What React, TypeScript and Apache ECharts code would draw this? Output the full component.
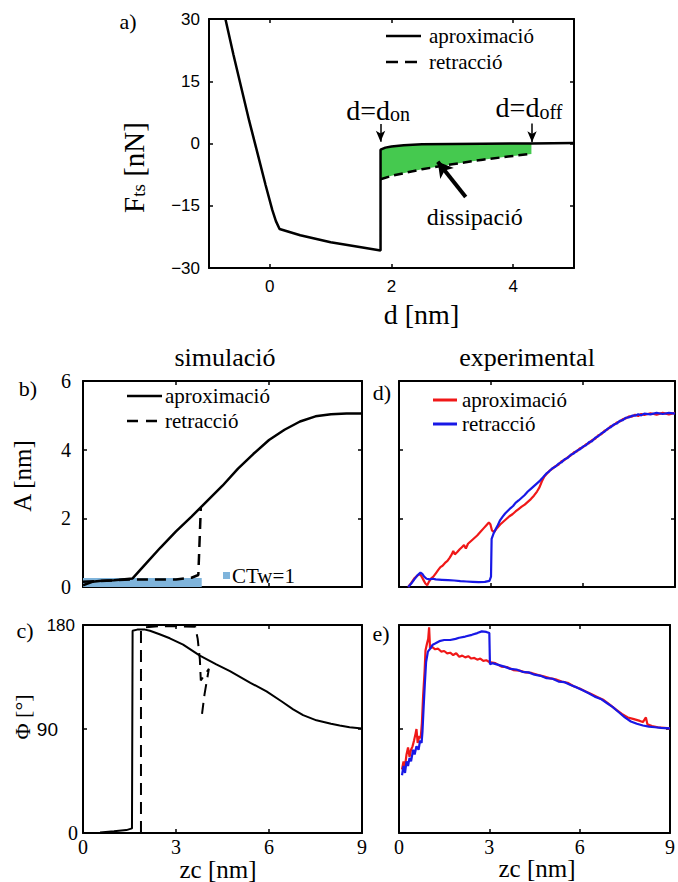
import React, { useEffect, useRef } from 'react';
import * as echarts from 'echarts';

const SERIF = "'Liberation Serif', 'Times New Roman', serif";
const SANS = "'Liberation Sans', Arial, sans-serif";
const BLACK = '#000';
const GREEN = '#45c94f';
const CTW_BLUE = '#7fb4db';
const RED = '#f01818';
const BLUE = '#1818e6';

// ---------- panel a : Fts vs d ----------
const aXRange = [-1, 5];
const aXTicks = [0, 2, 4];
const aYRange = [-30, 30];
const aYStep = 15;
const aApproach: number[][] = [
  [-0.73, 30], [-0.6, 21.5], [-0.47, 13.5], [-0.34, 5.5], [-0.2, -2.5], [-0.07, -10],
  [0.04, -16], [0.1, -18.7], [0.16, -20.6], [0.5, -22.1], [1.0, -23.8], [1.5, -25.0],
  [1.82, -25.8], [1.82, -1.5], [1.9, -1.0], [2.0, -0.7], [2.2, -0.4], [2.5, -0.2],
  [3.0, -0.1], [3.5, -0.05], [4.3, 0], [5.0, 0.1],
];
const aRetract: number[][] = [
  [1.82, -8.6], [2.0, -7.8], [2.5, -6.2], [3.0, -5.0], [3.5, -3.9], [4.0, -3.0], [4.3, -2.5],
];
const aOn = 1.82;
const aOff = 4.31;

// ---------- panel b : A simulation ----------
const zcRange = [0, 9];
const zcStep = 3;
const bYRange = [0, 6];
const bYStep = 2;
const bApproach: number[][] = [
  [0, 0.05], [0.3, 0.15], [0.6, 0.18], [1.0, 0.2], [1.6, 0.25], [2.0, 0.65], [2.5, 1.15],
  [3.0, 1.62], [3.5, 2.05], [4.0, 2.5], [4.5, 2.95], [5.0, 3.45], [5.5, 3.88], [6.0, 4.28],
  [6.5, 4.58], [7.0, 4.82], [7.5, 4.97], [8.0, 5.03], [8.5, 5.05], [9.0, 5.05],
];
const bRetract: number[][] = [
  [0, 0.15], [1.6, 0.22], [3.0, 0.22], [3.5, 0.27], [3.72, 0.35], [3.8, 2.3],
];
const ctwSpan = [0, 3.83];
const ctwLevel = 0.26;

// ---------- panel c : phase simulation ----------
const cYRange = [0, 180];
const cYStep = 90;
const cApproach: number[][] = [
  [0.55, 0.5], [1.0, 1.5], [1.4, 2.5], [1.58, 4], [1.6, 175], [1.75, 176], [2.0, 176],
  [2.16, 175], [2.47, 172], [2.8, 168.5], [3.23, 163], [3.77, 153.5], [4.3, 146],
  [4.74, 140], [5.4, 130], [5.92, 122.5], [6.4, 114], [6.78, 107], [7.1, 102],
  [7.53, 97.5], [8.0, 94.5], [8.28, 93], [8.6, 91.5], [9.0, 90.5],
];
const cRetract: number[][] = [
  [1.87, 0], [1.87, 176], [2.0, 178], [2.5, 179], [3.0, 179], [3.62, 178.5], [3.7, 168],
  [3.77, 150], [3.8, 132], [4.06, 142], [3.92, 120], [3.84, 103],
];

// ---------- panel d : A experimental ----------
const dApproach: number[][] = [
  [0.3, 0.0], [0.4, 0.12], [0.5, 0.25], [0.6, 0.33], [0.68, 0.38], [0.74, 0.3], [0.8, 0.2],
  [0.86, 0.1], [0.92, 0.05], [0.98, 0.16], [1.05, 0.25], [1.12, 0.3], [1.2, 0.4],
  [1.28, 0.5], [1.35, 0.58], [1.42, 0.62], [1.5, 0.7], [1.58, 0.76], [1.65, 0.85],
  [1.72, 0.95], [1.77, 1.05], [1.82, 0.95], [1.9, 1.02], [1.98, 1.1], [2.05, 1.16],
  [2.12, 1.22], [2.18, 1.12], [2.25, 1.26], [2.35, 1.34], [2.45, 1.42], [2.55, 1.5],
  [2.65, 1.6], [2.75, 1.7], [2.85, 1.8], [2.93, 1.88], [2.98, 1.83], [3.03, 1.65],
  [3.1, 1.6], [3.2, 1.72], [3.3, 1.82], [3.4, 1.9], [3.5, 1.98], [3.6, 2.06], [3.7, 2.12],
  [3.8, 2.2], [3.9, 2.27], [4.0, 2.34], [4.1, 2.4], [4.2, 2.48], [4.3, 2.56], [4.4, 2.66],
  [4.5, 2.78], [4.58, 2.9], [4.66, 3.08], [4.74, 3.22], [4.82, 3.3], [4.9, 3.38],
  [5.0, 3.44], [5.1, 3.52], [5.2, 3.56], [5.3, 3.66], [5.4, 3.7], [5.5, 3.78], [5.6, 3.83],
  [5.7, 3.92], [5.8, 3.95], [5.9, 4.04], [6.0, 4.07], [6.1, 4.16], [6.2, 4.19], [6.3, 4.28],
  [6.4, 4.32], [6.5, 4.42], [6.6, 4.45], [6.7, 4.55], [6.8, 4.59], [6.9, 4.68], [7.0, 4.71],
  [7.1, 4.79], [7.2, 4.82], [7.3, 4.89], [7.4, 4.91], [7.5, 4.97], [7.6, 4.96], [7.7, 5.02],
  [7.8, 4.98], [7.9, 5.04], [8.0, 5.01], [8.2, 5.06], [8.4, 5.02], [8.6, 5.07], [8.8, 5.03],
  [9.0, 5.07],
];
const dRetract: number[][] = [
  [0.3, 0.0], [0.4, 0.1], [0.5, 0.22], [0.6, 0.34], [0.7, 0.42], [0.76, 0.38], [0.82, 0.3],
  [0.9, 0.24], [1.0, 0.22], [1.1, 0.24], [1.2, 0.22], [1.4, 0.21], [1.6, 0.2], [1.8, 0.19],
  [2.0, 0.17], [2.2, 0.16], [2.4, 0.15], [2.6, 0.14], [2.8, 0.15], [2.95, 0.18], [3.0, 0.3],
  [3.02, 1.4], [3.08, 1.55], [3.15, 1.68], [3.22, 1.8], [3.3, 1.95], [3.38, 2.05],
  [3.46, 2.14], [3.55, 2.22], [3.64, 2.3], [3.72, 2.36], [3.8, 2.45], [3.9, 2.52],
  [4.0, 2.6], [4.1, 2.68], [4.2, 2.78], [4.3, 2.86], [4.4, 2.94], [4.5, 3.02], [4.6, 3.1],
  [4.7, 3.2], [4.8, 3.3], [4.9, 3.37], [5.0, 3.46], [5.1, 3.5], [5.2, 3.59], [5.3, 3.63],
  [5.4, 3.72], [5.5, 3.76], [5.6, 3.85], [5.7, 3.89], [5.8, 3.97], [5.9, 4.01], [6.0, 4.09],
  [6.1, 4.13], [6.2, 4.22], [6.3, 4.25], [6.4, 4.35], [6.5, 4.39], [6.6, 4.48], [6.7, 4.52],
  [6.8, 4.61], [6.9, 4.65], [7.0, 4.73], [7.1, 4.76], [7.2, 4.84], [7.3, 4.86], [7.4, 4.93],
  [7.5, 4.94], [7.6, 4.99], [7.7, 4.99], [7.8, 5.03], [7.9, 5.0], [8.0, 5.05], [8.2, 5.03],
  [8.4, 5.07], [8.6, 5.04], [8.8, 5.07], [9.0, 5.05],
];

// ---------- panel e : phase experimental ----------
const eApproach: number[][] = [
  [0.1, 55], [0.15, 62], [0.2, 58], [0.25, 68], [0.3, 74], [0.35, 66], [0.4, 72], [0.45, 75],
  [0.5, 80], [0.55, 86], [0.58, 90], [0.62, 78], [0.68, 84], [0.72, 82], [0.76, 95],
  [0.8, 118], [0.85, 140], [0.88, 158], [0.93, 164], [0.97, 168], [1.0, 178], [1.03, 160],
  [1.1, 161], [1.2, 159], [1.3, 159.5], [1.4, 157], [1.5, 157.5], [1.6, 155.5], [1.7, 156],
  [1.8, 154], [1.9, 155.5], [2.0, 152.5], [2.1, 153.5], [2.2, 152], [2.3, 153], [2.4, 151],
  [2.5, 151.5], [2.6, 150], [2.7, 151], [2.8, 149], [2.9, 149.5], [3.0, 148], [3.2, 147],
  [3.4, 144], [3.6, 143.5], [3.8, 141], [4.0, 140.5], [4.2, 139], [4.4, 138.5], [4.6, 137],
  [4.8, 135.5], [5.0, 134], [5.2, 133], [5.4, 131], [5.6, 130], [5.8, 127], [6.0, 125],
  [6.2, 122.5], [6.4, 120], [6.6, 117.5], [6.8, 115], [7.0, 111], [7.2, 107], [7.4, 103],
  [7.6, 100], [7.8, 98.5], [8.0, 97], [8.1, 96], [8.2, 100], [8.25, 94], [8.4, 92.5],
  [8.6, 91.5], [8.8, 91], [9.0, 90.5],
];
const eRetract: number[][] = [
  [0.1, 50], [0.15, 58], [0.2, 52], [0.25, 62], [0.3, 58], [0.35, 65], [0.4, 62], [0.47, 72],
  [0.52, 68], [0.58, 75], [0.65, 72], [0.7, 80], [0.75, 78], [0.78, 88], [0.82, 110],
  [0.86, 130], [0.9, 148], [0.96, 157], [1.05, 160], [1.12, 163], [1.2, 164], [1.34, 166],
  [1.5, 167], [1.7, 167], [1.88, 168], [2.0, 169], [2.2, 170], [2.42, 171.5], [2.6, 173],
  [2.75, 174.5], [2.9, 174], [3.0, 173], [3.02, 146], [3.1, 147], [3.3, 145.5], [3.5, 144],
  [3.7, 142], [3.9, 141.5], [4.1, 139.5], [4.3, 139], [4.5, 137], [4.7, 136], [4.9, 134],
  [5.1, 133.5], [5.3, 131], [5.5, 130.5], [5.7, 128], [5.9, 126], [6.1, 123.5], [6.3, 121],
  [6.5, 118], [6.7, 116], [6.9, 112.5], [7.1, 109], [7.3, 104.5], [7.5, 100], [7.7, 96.5],
  [7.9, 94.5], [8.1, 93], [8.3, 92], [8.5, 91.5], [8.7, 91], [9.0, 90.5],
];

// ---------- layout ----------
const GRIDS = [
  { left: 209, top: 19, width: 365, height: 249 }, // a
  { left: 83, top: 381, width: 279, height: 206 }, // b
  { left: 83, top: 625, width: 279, height: 208 }, // c
  { left: 399, top: 381, width: 276, height: 206 }, // d
  { left: 399, top: 625, width: 276, height: 208 }, // e
];

function axes(gi: number, dir: 'x' | 'y', range: number[], step: number | null,
  custom: number[] | null, label: any, extra: any = {}) {
  const tick: any = { show: true, inside: true, length: 4, lineStyle: { color: BLACK, width: 1.5 } };
  if (custom) tick.customValues = custom;
  const common: any = {
    type: 'value', gridIndex: gi, min: range[0], max: range[1],
    axisLine: { show: true, onZero: false, lineStyle: { color: BLACK, width: 2 } },
    splitLine: { show: false }, axisTick: tick,
  };
  if (step != null) common.interval = step;
  let lab: any = { show: false };
  if (label) {
    lab = { show: true, color: BLACK, ...label };
    if (custom) lab.customValues = custom;
  }
  return [
    { ...common, ...extra, position: dir === 'x' ? 'bottom' : 'left', axisLabel: lab },
    { ...common, position: dir === 'x' ? 'top' : 'right', axisLabel: { show: false } },
  ];
}

function line(gi: number, data: number[][], color: string, width: number, dash: any, extra: any = {}) {
  return {
    type: 'line', xAxisIndex: gi * 2, yAxisIndex: gi * 2, data, symbol: 'none', z: 3,
    lineStyle: { color, width, type: dash || 'solid' }, clip: true, silent: true, ...extra,
  };
}

function txt(x: number, y: number, text: string, size: number, opts: any = {}) {
  return {
    type: 'text', x, y, rotation: opts.rotation || 0, silent: true,
    style: {
      text, font: `${size}px ${opts.family || SERIF}`, fill: BLACK,
      textAlign: opts.align || 'center', textVerticalAlign: 'middle',
    },
  };
}

function seg(x1: number, y1: number, x2: number, y2: number, color: string, width: number, dash?: number[]) {
  return {
    type: 'line', silent: true, shape: { x1, y1, x2, y2 },
    style: { stroke: color, lineWidth: width, lineDash: dash || null },
  };
}

export default function App() {
  const ref = useRef<HTMLDivElement>(null);
  useEffect(() => {
    if (!ref.current) return;
    const chart = echarts.init(ref.current, null, { renderer: 'svg' });

    const subRich = {
      m: { fontFamily: SERIF, fontSize: 28, color: BLACK, lineHeight: 30, verticalAlign: 'bottom' },
      s: { fontFamily: SERIF, fontSize: 20, color: BLACK, lineHeight: 22, verticalAlign: 'bottom' },
    };

    const upperBranch = aApproach.filter((p) => p[0] >= aOn && p[0] <= aOff && p[1] > -5);
    const fillPoly = upperBranch.concat(aRetract.slice().reverse());

    const xAxis: any[] = [
      ...axes(0, 'x', aXRange, null, aXTicks, { fontFamily: SANS, fontSize: 17, margin: 10 }, {
        name: 'd [nm]', nameLocation: 'middle', nameGap: 32,
        nameTextStyle: { fontFamily: SERIF, fontSize: 28, color: BLACK, padding: [0, 0, 0, 60] },
      }),
      ...axes(1, 'x', zcRange, zcStep, null, null),
      ...axes(2, 'x', zcRange, zcStep, null, { fontFamily: SERIF, fontSize: 20, margin: 4 }),
      ...axes(3, 'x', zcRange, zcStep, null, null),
      ...axes(4, 'x', zcRange, zcStep, null, { fontFamily: SERIF, fontSize: 20, margin: 4 }),
    ];
    const yAxis: any[] = [
      ...axes(0, 'y', aYRange, aYStep, null, {
        fontFamily: SANS, fontSize: 17, margin: 9,
        formatter: (v: number) => String(v).replace('-', '\u2212'),
      }, {
        name: '{a|F}{b|ts}{a| [nN]}', nameLocation: 'middle', nameRotate: 90, nameGap: 61,
        nameTextStyle: {
          padding: [0, 48, 0, 0],
          rich: {
            a: { fontFamily: SERIF, fontSize: 29, color: BLACK, lineHeight: 32, verticalAlign: 'bottom' },
            b: { fontFamily: SERIF, fontSize: 19, color: BLACK, lineHeight: 22, verticalAlign: 'bottom' },
          },
        },
      }),
      ...axes(1, 'y', bYRange, bYStep, null, { fontFamily: SERIF, fontSize: 20, margin: 12 }),
      ...axes(2, 'y', cYRange, cYStep, null, {
        margin: 5,
        formatter: (v: number) => (v === 180 ? '{s|180}' : v === 90 ? '{t|90}' : '{u|0}'),
        rich: {
          s: { fontFamily: SANS, fontSize: 17, color: BLACK, padding: [0, 3, 0, 0] },
          t: { fontFamily: SANS, fontSize: 19, color: BLACK, padding: [0, 20, 0, 0] },
          u: { fontFamily: SERIF, fontSize: 20, color: BLACK },
        },
      }),
      ...axes(3, 'y', bYRange, bYStep, null, null),
      ...axes(4, 'y', cYRange, cYStep, null, null),
    ];

    const series: any[] = [
      {
        type: 'custom', xAxisIndex: 0, yAxisIndex: 0, data: [0], z: 1, silent: true,
        renderItem: (_p: any, api: any) => ({
          type: 'polygon',
          shape: { points: fillPoly.map((p) => api.coord(p)) },
          style: { fill: GREEN },
        }),
      },
      line(0, aApproach, BLACK, 2.5, null, {
        markLine: {
          silent: true, animation: false, symbol: ['none', 'arrow'], symbolSize: [7, 11],
          label: { show: false }, lineStyle: { color: BLACK, type: 'solid', width: 1.5 },
          data: [
            [{ coord: [aOn, 4.7] }, { coord: [aOn, 0.4] }],
            [{ coord: [aOff, 4.8] }, { coord: [aOff, 0.3] }],
            [
              { coord: [3.22, -12.9], lineStyle: { width: 4, color: BLACK } },
              { coord: [2.76, -4.4], symbolSize: [13, 15] },
            ],
          ],
        },
        markPoint: {
          silent: true, animation: false, symbol: 'circle', symbolSize: 1,
          itemStyle: { color: 'rgba(0,0,0,0)' },
          label: { show: true, position: 'inside', color: BLACK },
          data: [
            { coord: [1.78, 8.3], label: { formatter: '{m|d=d}{s|on}', rich: subRich } },
            { coord: [4.26, 8.8], label: { formatter: '{m|d=d}{s|off}', rich: subRich } },
            { coord: [3.37, -17.7], label: { formatter: 'dissipació', fontFamily: SERIF, fontSize: 24 } },
          ],
        },
      }),
      line(0, aRetract, BLACK, 2.5, [9, 5]),
      {
        type: 'custom', xAxisIndex: 2, yAxisIndex: 2, data: [0], z: 1, silent: true,
        renderItem: (_p: any, api: any) => {
          const p0 = api.coord([ctwSpan[0], ctwLevel]);
          const p1 = api.coord([ctwSpan[1], 0]);
          return {
            type: 'rect',
            shape: { x: p0[0], y: p0[1], width: p1[0] - p0[0], height: p1[1] - p0[1] },
            style: { fill: CTW_BLUE },
          };
        },
      },
      line(1, bApproach, BLACK, 2.5, null),
      line(1, bRetract, BLACK, 2.5, [11, 7]),
      line(2, cApproach, BLACK, 2, null),
      line(2, cRetract, BLACK, 2, [12, 7]),
      line(3, dApproach, RED, 2.2, null),
      line(3, dRetract, BLUE, 2.2, null),
      line(4, eApproach, RED, 2.2, null),
      line(4, eRetract, BLUE, 2.2, null),
    ];

    const graphic: any[] = [
      txt(128, 21, 'a)', 22),
      txt(28, 388, 'b)', 22),
      txt(25, 630, 'c)', 22),
      txt(382, 392, 'd)', 22),
      txt(381, 633, 'e)', 22),
      txt(225, 357, 'simulació', 26),
      txt(527, 357, 'experimental', 26),
      txt(22, 476, 'A [nm]', 25, { rotation: Math.PI / 2 }),
      txt(22, 717, 'Φ [°]', 22, { rotation: Math.PI / 2 }),
      txt(218, 869, 'zc [nm]', 25),
      txt(537, 868, 'zc [nm]', 25),
      // legend a
      seg(386, 36, 421, 36, BLACK, 2.5),
      seg(386, 62, 421, 62, BLACK, 2.5, [12, 7]),
      txt(429, 36, 'aproximació', 21, { align: 'left' }),
      txt(429, 62, 'retracció', 21, { align: 'left' }),
      // legend b
      seg(127, 396, 162, 396, BLACK, 2.5),
      seg(127, 421, 162, 421, BLACK, 2.5, [11, 8]),
      txt(165, 396, 'aproximació', 21, { align: 'left' }),
      txt(165, 421, 'retracció', 21, { align: 'left' }),
      // legend d
      seg(433, 400, 457, 400, RED, 3),
      seg(433, 424, 457, 424, BLUE, 3),
      txt(462, 400, 'aproximació', 21, { align: 'left' }),
      txt(462, 424, 'retracció', 21, { align: 'left' }),
      // CTw
      { type: 'rect', silent: true, shape: { x: 223, y: 572, width: 7, height: 7 }, style: { fill: CTW_BLUE } },
      txt(232, 576, 'CTw=1', 21, { align: 'left' }),
    ];

    chart.setOption({
      animation: false,
      backgroundColor: '#fff',
      grid: GRIDS.map((g) => ({ ...g, containLabel: false })),
      xAxis,
      yAxis,
      series,
      graphic,
    });
    return () => chart.dispose();
  }, []);

  return (
    <div
      ref={ref}
      style={{ position: 'absolute', left: 0, top: 0, width: 678, height: 882, background: '#fff' }}
    />
  );
}
